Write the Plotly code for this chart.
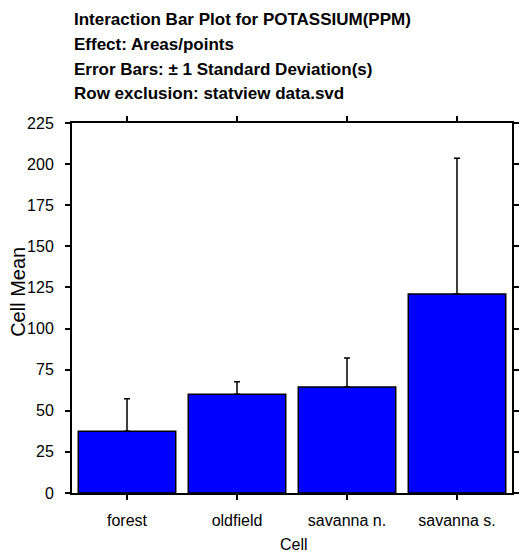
import plotly.graph_objects as go

categories = ["forest", "oldfield", "savanna n.", "savanna s."]
cell_mean = [37.5, 60.0, 64.5, 121.0]
std_dev = [19.8, 7.7, 17.6, 82.6]
y_ticks = [0, 25, 50, 75, 100, 125, 150, 175, 200, 225]
title_lines = [
    "Interaction Bar Plot for POTASSIUM(PPM)",
    "Effect: Areas/points",
    "Error Bars: ± 1 Standard Deviation(s)",
    "Row exclusion: statview data.svd",
]
x_title = "Cell"
y_title = "Cell Mean"

FONT = "Liberation Sans, Arial, sans-serif"
W, H = 524, 554
L, R, T, B = 72, 5, 123, 61
PW, PH = W - L - R, H - T - B


def px_x(x):
    return (x - L) / PW


def px_y(y):
    return (H - B - y) / PH


fig = go.Figure()
fig.add_trace(go.Bar(
    x=categories,
    y=cell_mean,
    marker=dict(color="#0000FF", line=dict(color="black", width=1.5)),
    error_y=dict(type="data", array=std_dev, arrayminus=[0] * len(std_dev),
                 symmetric=False, color="black", thickness=1.5, width=3),
))

annotations = []
title_centers = [19, 44.5, 69.5, 94]
for line, yc in zip(title_lines, title_centers):
    annotations.append(dict(
        text="<b>" + line + "</b>", xref="paper", yref="paper",
        x=px_x(72), y=px_y(yc), xanchor="left", yanchor="middle",
        showarrow=False, font=dict(family=FONT, size=17, color="black"),
    ))
annotations.append(dict(
    text=y_title, xref="paper", yref="paper", x=px_x(17), y=px_y(292),
    xanchor="center", yanchor="middle", textangle=-90, showarrow=False,
    font=dict(family=FONT, size=20, color="black"),
))
annotations.append(dict(
    text=x_title, xref="paper", yref="paper", x=px_x(298), y=px_y(544),
    xanchor="center", yanchor="middle", showarrow=False,
    font=dict(family=FONT, size=16, color="black"),
))

fig.update_layout(
    width=W, height=H,
    margin=dict(l=L, r=R, t=T, b=B, pad=0),
    paper_bgcolor="white", plot_bgcolor="white",
    bargap=0.114,
    showlegend=False,
    annotations=annotations,
    font=dict(family=FONT, size=16, color="black"),
)
fig.update_xaxes(
    range=[-0.5, 3.5], showgrid=False, zeroline=False,
    showline=True, linecolor="black", linewidth=2, mirror="ticks",
    ticks="outside", ticklen=5, tickwidth=1.5, tickcolor="black",
    ticklabelstandoff=7,
    tickfont=dict(family=FONT, size=16, color="black"),
)
fig.update_yaxes(
    range=[0, 225], tickvals=y_ticks, showgrid=False, zeroline=False,
    showline=True, linecolor="black", linewidth=2, mirror="ticks",
    ticks="outside", ticklen=5, tickwidth=2, tickcolor="black",
    ticklabelstandoff=8,
    tickfont=dict(family=FONT, size=16, color="black"),
)

fig.write_html(
    "out.html",
    config={"displayModeBar": False},
    post_script="document.body.style.margin='0';document.body.style.overflow='hidden';",
)
